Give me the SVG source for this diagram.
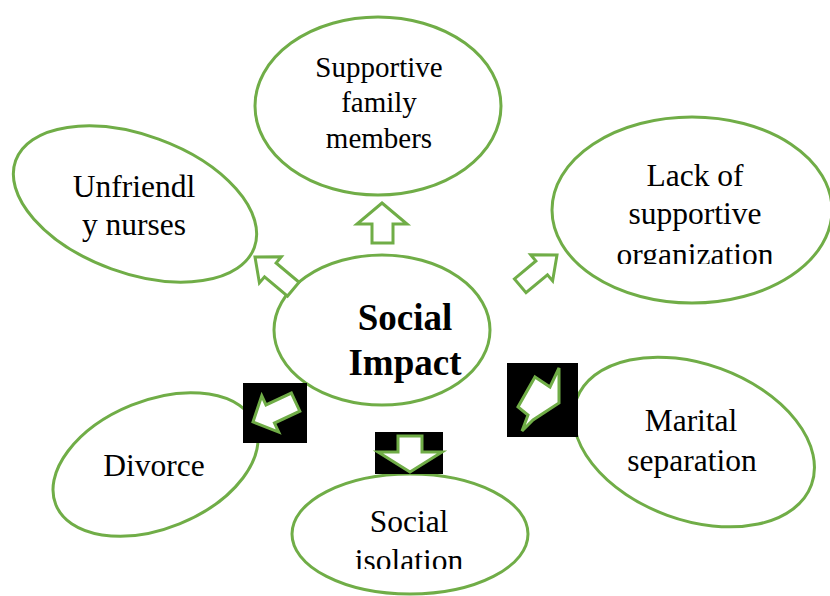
<svg xmlns="http://www.w3.org/2000/svg" width="830" height="596" viewBox="0 0 830 596">
<style>
.node{fill:#fff;stroke:#70AD47;stroke-width:3}
.t{font-family:"Liberation Serif","Times New Roman",serif;font-size:31.5px;fill:#000;text-anchor:middle}
.arr{fill:#fff;stroke:#70AD47;stroke-width:3;stroke-linejoin:miter}
.box{fill:#000}
</style>
<defs>
<clipPath id="clipOrg"><rect x="0" y="0" width="830" height="264"/></clipPath>
<clipPath id="clipIso"><rect x="0" y="0" width="830" height="569"/></clipPath>
</defs>
<rect width="830" height="596" fill="#fff"/>
<g id="supportive-family">
<ellipse class="node" cx="378" cy="106" rx="123" ry="89"/>
<text class="t" style="font-size:29px" x="379" y="77">Supportive</text>
<text class="t" style="font-size:29px" x="379" y="112">family</text>
<text class="t" style="font-size:29px" x="379" y="148">members</text>
</g>
<g id="unfriendly-nurses">
<ellipse class="node" cx="135" cy="204" rx="127" ry="69" transform="rotate(20 135 204)"/>
<text class="t" x="134" y="197">Unfriendl</text>
<text class="t" x="134" y="235">y nurses</text>
</g>
<g id="lack-support">
<ellipse class="node" cx="692" cy="210" rx="140" ry="93"/>
<g clip-path="url(#clipOrg)">
<text class="t" x="695" y="186">Lack of</text>
<text class="t" x="695" y="224">supportive</text>
<text class="t" x="695" y="265">organization</text>
</g>
</g>
<g id="marital-separation">
<ellipse class="node" cx="694" cy="442" rx="125" ry="78" transform="rotate(20 694 442)"/>
<text class="t" x="691" y="431">Marital</text>
<text class="t" x="692" y="471">separation</text>
</g>
<g id="divorce">
<ellipse class="node" cx="155.5" cy="464.5" rx="107.5" ry="64" transform="rotate(-22 155.5 464.5)"/>
<text class="t" x="154" y="476">Divorce</text>
</g>
<g id="social-isolation">
<ellipse class="node" cx="410" cy="534" rx="118" ry="60"/>
<g clip-path="url(#clipIso)">
<text class="t" x="409" y="532">Social</text>
<text class="t" x="409" y="571">isolation</text>
</g>
</g>
<g id="social-impact">
<ellipse class="node" cx="382" cy="330" rx="108" ry="75"/>
<text class="t" style="font-size:37px;font-weight:bold" x="405" y="330">Social</text>
<text class="t" style="font-size:37px;font-weight:bold" x="405" y="375">Impact</text>
</g>
<g id="connectors">
<polygon class="arr" points="382,203 407,224 393,224 393,243 372,243 372,224 357,224"/>
<polygon class="arr" points="0,0 17,20 9,20 9,50 -9,50 -9,20 -17,20" transform="translate(255 257) rotate(-50)"/>
<polygon class="arr" points="0,0 17,20 9,20 9,48 -9,48 -9,20 -17,20" transform="translate(557 255) rotate(50)"/>
<rect class="box" x="243" y="383" width="64" height="60"/>
<polygon class="arr" points="0,0 20,19 10,19 10,47 -10,47 -10,19 -20,19" transform="translate(253 422) rotate(-115)"/>
<rect class="box" x="375" y="432" width="68" height="42"/>
<polygon class="arr" points="410,472 442,452 422,452 422,436 398,436 398,452 378,452"/>
<rect class="box" x="507" y="363" width="71" height="74"/>
<polygon class="arr" points="535,377 550,387 559,368 559,403 533,420 522,431 528,415 518,407"/>
</g>
</svg>
